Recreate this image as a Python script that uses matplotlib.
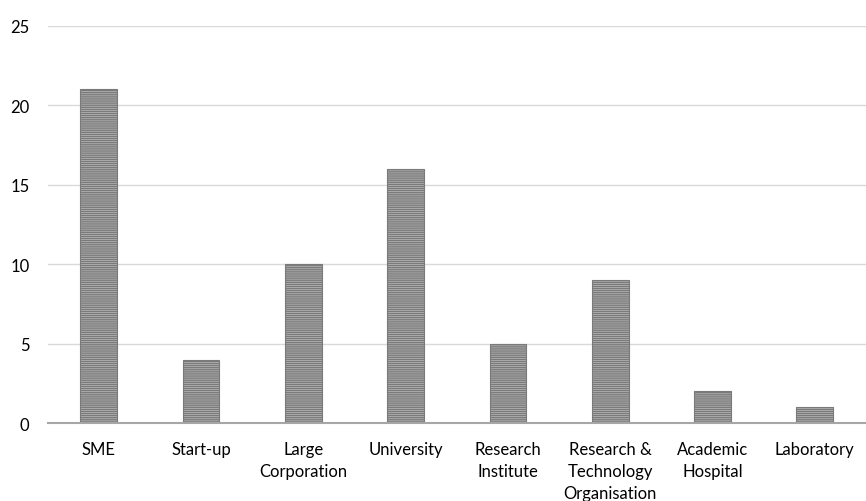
import matplotlib.pyplot as plt
import numpy as np

plt.rcParams['font.family'] = ['Lato', 'DejaVu Sans']
plt.rcParams['hatch.linewidth'] = 1.0
plt.rcParams['hatch.color'] = '#3a3a3a'

categories = ['SME', 'Start-up', 'Large\nCorporation', 'University', 'Research\nInstitute',
              'Research &\nTechnology\nOrganisation', 'Academic\nHospital', 'Laboratory']
counts = [21, 4, 10, 16, 5, 9, 2, 1]
yticks = [0, 5, 10, 15, 20, 25]

fig, ax = plt.subplots(figsize=(8.66, 5.02), dpi=100)
fig.subplots_adjust(left=0.055, right=1.0, top=0.947, bottom=0.155)

x = np.arange(len(categories))
ax.bar(x, counts, width=0.36, color='#bdbdbd', edgecolor='#7a7a7a', linewidth=0.8,
       hatch='--------', zorder=3)

ax.set_xlim(-0.5, len(categories) - 0.5)
ax.set_ylim(0, 25)
ax.set_yticks(yticks)
ax.set_xticks(x)
ax.set_xticklabels(categories, fontsize=12, va='top', linespacing=1.45)
ax.tick_params(axis='y', labelsize=12, length=0, pad=13)
ax.tick_params(axis='x', length=0, pad=13)
ax.grid(axis='y', color='#d9d9d9', linewidth=1, zorder=0)
for s in ['top', 'right', 'left']:
    ax.spines[s].set_visible(False)
ax.spines['bottom'].set_color('#a6a6a6')
ax.spines['bottom'].set_linewidth(1.5)
ax.spines['bottom'].set_zorder(4)

fig.savefig('out.png')
